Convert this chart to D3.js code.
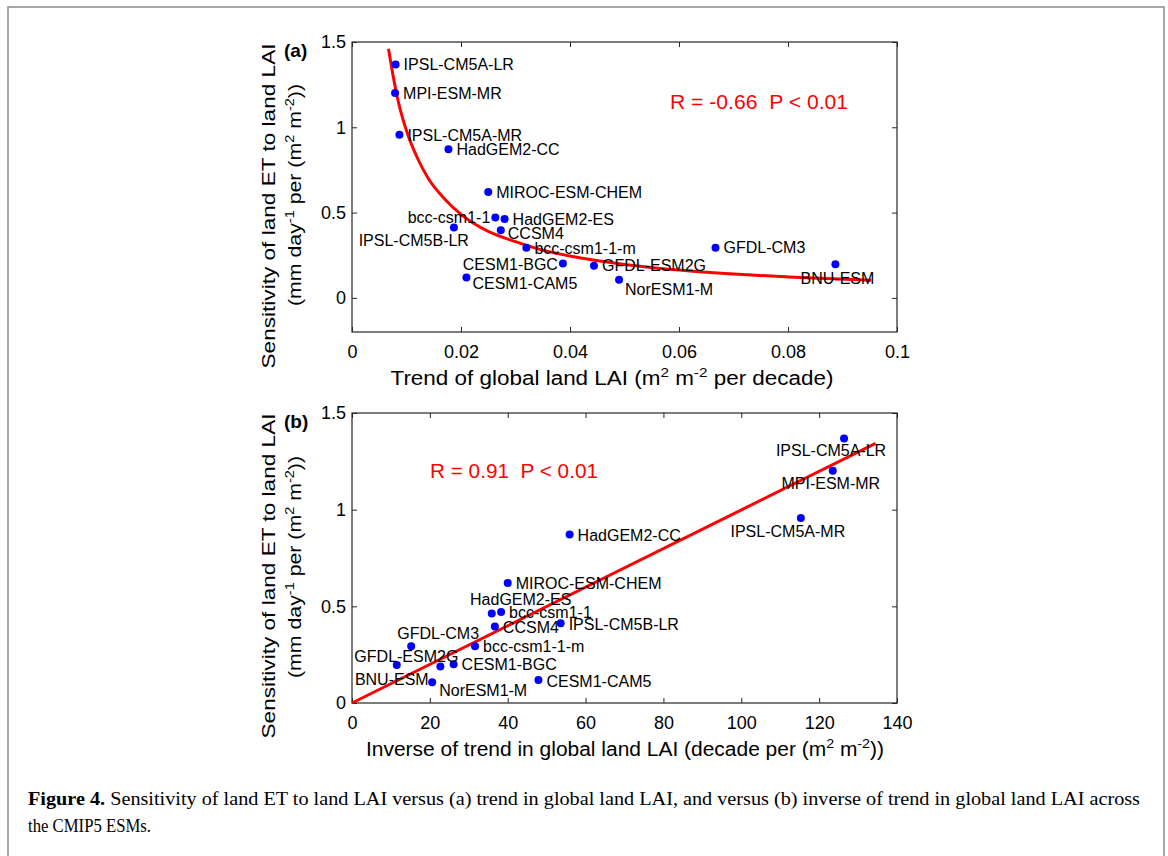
<!DOCTYPE html>
<html lang="en">
<head>
<meta charset="UTF-8">
<script src="https://cdn.jsdelivr.net/npm/d3@7"></script>
<title>Figure 4</title>
<style>
    * { margin: 0; padding: 0; box-sizing: border-box; }
    body { background: white; }
    svg { display: block; font-family: "Liberation Sans", Arial, sans-serif; }
</style>
</head>
<body>
<svg width="1168" height="856"></svg>
<script>
// data
const models = ['IPSL-CM5A-LR', 'MPI-ESM-MR', 'IPSL-CM5A-MR', 'HadGEM2-CC', 'MIROC-ESM-CHEM',
    'bcc-csm1-1', 'HadGEM2-ES', 'IPSL-CM5B-LR', 'CCSM4', 'bcc-csm1-1-m', 'GFDL-CM3',
    'BNU-ESM', 'CESM1-BGC', 'GFDL-ESM2G', 'CESM1-CAM5', 'NorESM1-M']
const sensitivity = [1.368, 1.201, 0.957, 0.872, 0.621, 0.471, 0.463, 0.413, 0.396, 0.294, 0.294,
    0.197, 0.201, 0.189, 0.119, 0.107]
const laiTrend = [0.0080, 0.0079, 0.0087, 0.0177, 0.0250, 0.0263, 0.0280, 0.0187, 0.0273, 0.0320, 0.0667,
    0.0887, 0.0387, 0.0444, 0.0210, 0.0490]
const inverseTrend = [126.4, 123.5, 115.3, 55.9, 40.0, 38.3, 35.9, 53.6, 36.7, 31.6, 15.2,
    11.5, 26.1, 22.7, 47.9, 20.6]

// fitted curves
const fitTrendX = [0.0067, 0.0075, 0.0085, 0.010, 0.012, 0.014, 0.017, 0.020, 0.025, 0.030, 0.035,
    0.040, 0.050, 0.060, 0.070, 0.080, 0.0953]
const fitTrendY = [1.46, 1.31, 1.15, 0.98, 0.82, 0.70, 0.58, 0.49, 0.39, 0.33, 0.28,
    0.245, 0.196, 0.163, 0.140, 0.123, 0.103]
const fitInverseX = [0, 134.5]
const fitInverseY = [0, 1.343]

const ticksTrendX = [0, 0.02, 0.04, 0.06, 0.08, 0.1]
const ticksInverseX = [0, 20, 40, 60, 80, 100, 120, 140]
const ticksY = [0, 0.5, 1, 1.5]

// label placement: [anchor, dx, dy]
const labelsA = {
    'IPSL-CM5A-LR': ['start', 8, 0], 'MPI-ESM-MR': ['start', 8, 0], 'IPSL-CM5A-MR': ['start', 8, 1],
    'HadGEM2-CC': ['start', 8, 0], 'MIROC-ESM-CHEM': ['start', 8, 0], 'bcc-csm1-1': ['end', -5, 0],
    'HadGEM2-ES': ['start', 8, 0], 'IPSL-CM5B-LR': ['end', 15, 13], 'CCSM4': ['start', 7, 3],
    'bcc-csm1-1-m': ['start', 8, 1], 'GFDL-CM3': ['start', 8, 0], 'BNU-ESM': ['middle', 2, 14],
    'CESM1-BGC': ['end', -5, 1], 'GFDL-ESM2G': ['start', 8, 0], 'CESM1-CAM5': ['start', 6, 6],
    'NorESM1-M': ['start', 6, 10]
}
const labelsB = {
    'IPSL-CM5A-LR': ['middle', -13, 12], 'MPI-ESM-MR': ['middle', -2, 13], 'IPSL-CM5A-MR': ['middle', -13, 13],
    'HadGEM2-CC': ['start', 8, 1], 'MIROC-ESM-CHEM': ['start', 8, 0], 'HadGEM2-ES': ['middle', 29, -14],
    'bcc-csm1-1': ['start', 8, 0], 'CCSM4': ['start', 8, 1], 'IPSL-CM5B-LR': ['start', 8, 1],
    'GFDL-CM3': ['middle', 27, -13], 'bcc-csm1-1-m': ['start', 8, 0], 'BNU-ESM': ['middle', -5, 14],
    'GFDL-ESM2G': ['middle', -34, -10], 'CESM1-BGC': ['start', 8, 0], 'NorESM1-M': ['start', 7, 8],
    'CESM1-CAM5': ['start', 8, 1]
}

const svg = d3.select('svg')
const left = 352, right = 897

// figure frame
svg.append('rect')
    .attr('x', 8).attr('y', 7).attr('width', 1156).attr('height', 880)
    .attr('fill', 'none').attr('stroke', '#8c8c8c').attr('stroke-width', 1.5)

function addSup(text, parts, size) {
    parts.forEach(p => {
        if (p.sup) {
            text.append('tspan').attr('font-size', size * 0.68).attr('dy', -size * 0.38).text(p.t)
        } else {
            text.append('tspan').attr('dy', p.back ? size * 0.38 : 0).text(p.t)
        }
    })
}

function drawPanel(o) {
    const x = d3.scaleLinear().domain(o.xDomain).range([left, right])
    const y = d3.scaleLinear().domain(o.yDomain).range([o.bottom, o.top])
    const g = svg.append('g')

    g.append('rect')
        .attr('x', left).attr('y', o.top)
        .attr('width', right - left).attr('height', o.bottom - o.top)
        .attr('fill', 'none').attr('stroke', '#262626').attr('stroke-width', 1.2)

    const fmt = d => String(+d.toFixed(2))

    const axes = [
        [d3.axisBottom(x).tickValues(o.xTicks).tickFormat(fmt).tickPadding(13), `translate(0,${o.bottom})`],
        [d3.axisTop(x).tickValues(o.xTicks).tickFormat(''), `translate(0,${o.top})`],
        [d3.axisLeft(y).tickValues(ticksY).tickFormat(fmt).tickPadding(6), `translate(${left},0)`],
        [d3.axisRight(y).tickValues(ticksY).tickFormat(''), `translate(${right},0)`]
    ]
    axes.forEach(([ax, tr]) => {
        const a = g.append('g').attr('transform', tr)
            .call(ax.tickSizeInner(-5).tickSizeOuter(0))
        a.select('.domain').remove()
        a.attr('color', '#262626')
            .attr('font-family', '"Liberation Sans", Arial, sans-serif')
            .attr('font-size', 18)
        a.selectAll('text').attr('fill', '#000')
    })

    // fit line
    const pts = o.fitX.map((v, i) => [v, o.fitY[i]])
    g.append('path')
        .attr('d', d3.line().x(d => x(d[0])).y(d => y(d[1])).curve(d3.curveMonotoneX)(pts))
        .attr('fill', 'none').attr('stroke', '#ff0000').attr('stroke-width', 3)

    // points
    g.selectAll('circle')
        .data(models)
        .join('circle')
        .attr('cx', (d, i) => x(o.xs[i]))
        .attr('cy', (d, i) => y(sensitivity[i]))
        .attr('r', 4)
        .attr('fill', '#0000ff')

    g.selectAll('text.lbl')
        .data(models)
        .join('text')
        .attr('class', 'lbl')
        .attr('x', (d, i) => x(o.xs[i]) + o.labels[d][1])
        .attr('y', (d, i) => y(sensitivity[i]) + o.labels[d][2])
        .attr('dy', '0.35em')
        .attr('text-anchor', d => o.labels[d][0])
        .attr('font-size', 16)
        .attr('fill', '#000')
        .text(d => d)

    // panel letter
    g.append('text')
        .attr('x', 284).attr('y', o.top + 15)
        .attr('font-size', 19).attr('font-weight', 'bold')
        .text(o.letter)

    // R text
    g.append('text')
        .attr('x', o.rPos[0]).attr('y', o.rPos[1])
        .attr('font-size', 21).attr('fill', '#ff0000')
        .attr('textLength', o.rLen).attr('lengthAdjust', 'spacingAndGlyphs')
        .attr('xml:space', 'preserve')
        .text(o.rText)

    // x title
    const xt = g.append('text')
        .attr('x', o.xTitleX).attr('y', o.bottom + 53)
        .attr('text-anchor', 'middle').attr('font-size', 20)
        .attr('textLength', o.xTitleLen).attr('lengthAdjust', 'spacingAndGlyphs')
    addSup(xt, o.xTitle, 20)

    // y title, two lines
    g.append('text')
        .attr('transform', `translate(275,${o.yTitleC[0]}) rotate(-90)`)
        .attr('text-anchor', 'middle').attr('font-size', 19)
        .attr('textLength', 325).attr('lengthAdjust', 'spacingAndGlyphs')
        .text('Sensitivity of land ET to land LAI')
    const y2 = g.append('text')
        .attr('transform', `translate(301,${o.yTitleC[1]}) rotate(-90)`)
        .attr('text-anchor', 'middle').attr('font-size', 19)
        .attr('textLength', 222).attr('lengthAdjust', 'spacingAndGlyphs')
    addSup(y2, [{t: '(mm day'}, {t: '-1', sup: true}, {t: ' per (m', back: true}, {t: '2', sup: true},
        {t: ' m', back: true}, {t: '-2', sup: true}, {t: '))', back: true}], 19)
}

drawPanel({
    top: 42, bottom: 332, xDomain: [0, 0.1], yDomain: [-0.2, 1.5],
    xs: laiTrend, xTicks: ticksTrendX, fitX: fitTrendX, fitY: fitTrendY,
    labels: labelsA, letter: '(a)',
    rText: 'R = -0.66  P < 0.01', rPos: [670, 109], rLen: 178,
    xTitle: [{t: 'Trend of global land LAI (m'}, {t: '2', sup: true}, {t: ' m', back: true},
        {t: '-2', sup: true}, {t: ' per decade)', back: true}],
    xTitleX: 612, xTitleLen: 443, yTitleC: [206, 195]
})

drawPanel({
    top: 413, bottom: 703, xDomain: [0, 140], yDomain: [0, 1.5],
    xs: inverseTrend, xTicks: ticksInverseX, fitX: fitInverseX, fitY: fitInverseY,
    labels: labelsB, letter: '(b)',
    rText: 'R = 0.91  P < 0.01', rPos: [430, 478], rLen: 168,
    xTitle: [{t: 'Inverse of trend in global land LAI (decade per (m'}, {t: '2', sup: true},
        {t: ' m', back: true}, {t: '-2', sup: true}, {t: '))', back: true}],
    xTitleX: 625, xTitleLen: 518, yTitleC: [576, 567]
})

// caption
const cap = svg.append('text')
    .attr('x', 28).attr('y', 805)
    .attr('font-family', '"Liberation Serif", "Times New Roman", serif')
    .attr('font-size', 19)
    .attr('textLength', 1112).attr('lengthAdjust', 'spacingAndGlyphs')
cap.append('tspan').attr('font-weight', 'bold').text('Figure 4.')
cap.append('tspan').text(' Sensitivity of land ET to land LAI versus (a) trend in global land LAI, and versus (b) inverse of trend in global land LAI across')
svg.append('text')
    .attr('x', 28).attr('y', 832)
    .attr('font-family', '"Liberation Serif", "Times New Roman", serif')
    .attr('font-size', 19)
    .attr('textLength', 123).attr('lengthAdjust', 'spacingAndGlyphs')
    .text('the CMIP5 ESMs.')
</script>
</body>
</html>
